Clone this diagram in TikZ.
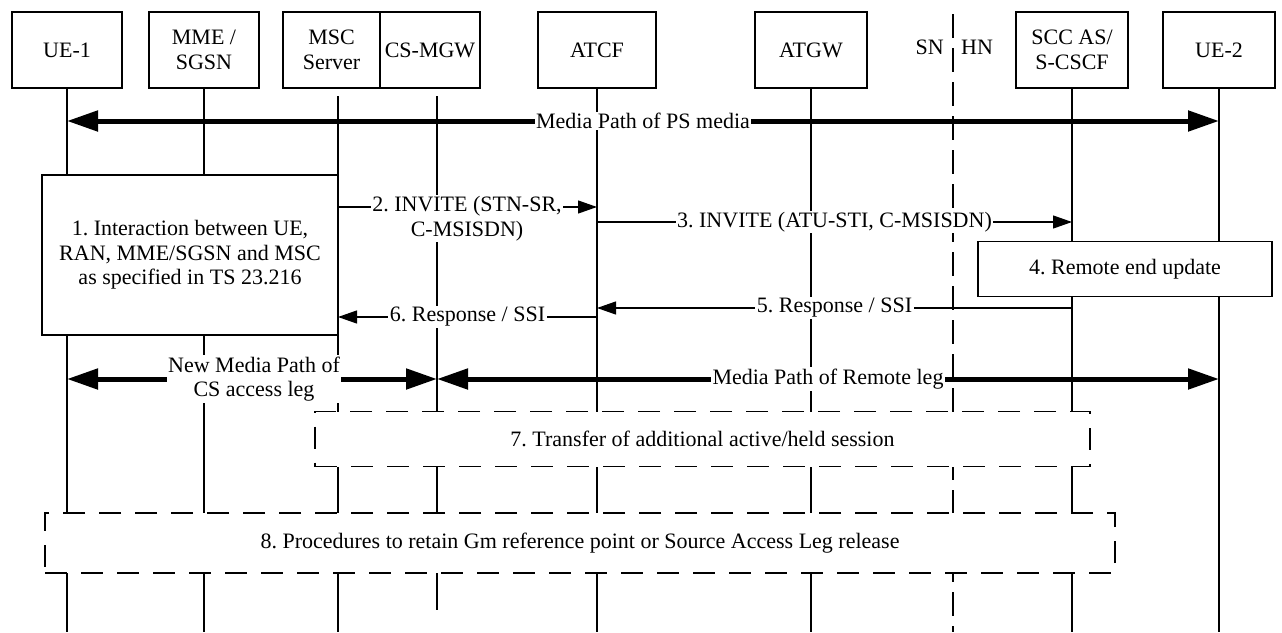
\documentclass[tikz,border=0pt]{standalone}
\usepackage{fontspec}
\setmainfont{Liberation Serif}
\usetikzlibrary{arrows.meta}
\begin{document}
\frenchspacing
\begin{tikzpicture}[x=1pt,y=-1pt,
  every node/.style={font=\fontsize{22}{24.5}\selectfont},
  hdr/.style={draw, line width=1.1pt, fill=white, minimum height=76pt, align=center, inner sep=1pt},
  life/.style={line width=1.2pt},
  snhn/.style={line width=1.2pt, dash pattern=on 24pt off 10pt},
  msg/.style={line width=1.2pt, -{Triangle[length=19pt,width=13pt]}},
  media/.style={line width=5pt, {Triangle[length=31pt,width=20pt]}-{Triangle[length=31pt,width=20pt]}},
  lbl/.style={fill=white, inner sep=1.5pt, align=center},
  procbox/.style={draw, line width=1.2pt, fill=white, align=center, inner sep=0pt},
  dproc/.style={draw, line width=1.2pt, fill=white, dash pattern=on 22pt off 14pt, align=center, inner sep=0pt}]
\useasboundingbox (0,0) rectangle (1282,632);
% header boxes
\node[hdr, minimum width=110pt] (ue1) at (67,50) {UE-1};
\node[hdr, minimum width=110pt] (mme) at (204,50) {MME /\\SGSN};
\node[hdr, minimum width=97pt] (msc) at (331.5,50) {MSC\\Server};
\node[hdr, minimum width=100pt] (cmgw) at (430,50) {CS-MGW};
\node[hdr, minimum width=118pt] (atcf) at (597,50) {ATCF};
\node[hdr, minimum width=112pt] (atgw) at (811,50) {ATGW};
\node[hdr, minimum width=112pt] (scc) at (1072,50) {SCC AS/\\S-CSCF};
\node[hdr, minimum width=112pt] (ue2) at (1219,50) {UE-2};
\node[anchor=east, inner sep=0pt] (sn) at (944,47) {SN};
\node[anchor=west, inner sep=0pt] (hn) at (961,47) {HN};
% lifeline coordinates
\coordinate (ue1b) at (67,632);
\coordinate (mmeb) at (204,632);
\coordinate (msct) at (338,96);
\coordinate (mscb) at (338,632);
\coordinate (cmgwt) at (437,96);
\coordinate (cmgwb) at (437,610);
\coordinate (atcfb) at (597,632);
\coordinate (atgwb) at (811,632);
\coordinate (sccb) at (1072,632);
\coordinate (ue2b) at (1219,632);
\coordinate (bdt) at (953,14);
\coordinate (bdb) at (953,632);
% lifelines
\draw[life] (ue1.south) -- (ue1b);
\draw[life] (mme.south) -- (mmeb);
\draw[life] (msct) -- (mscb);
\draw[life] (cmgwt) -- (cmgwb);
\draw[life] (atcf.south) -- (atcfb);
\draw[life] (atgw.south) -- (atgwb);
\draw[life] (scc.south) -- (sccb);
\draw[life] (ue2.south) -- (ue2b);
\draw[snhn] (bdt) -- (bdb);
% PS media path
\coordinate (ps1) at (67,121);
\coordinate (ps2) at (1219,121);
\draw[media] (ps1) -- (ps2) node[lbl, midway] (pslbl) {Media Path of PS media};
% procedure boxes
\node[procbox, minimum width=296pt, minimum height=160pt] (p1) at (190,255)
  {1. Interaction between UE,\\RAN, MME/SGSN and MSC\\as specified in TS 23.216};
\node[procbox, minimum width=294pt, minimum height=55pt] (p4) at (1125,269) {4. Remote end update};
\node[dproc, minimum width=775pt, minimum height=55pt] (p7) at (702.5,439) {7. Transfer of additional active/held session};
\node[dproc, minimum width=1070pt, minimum height=60pt] (p8) at (580,543) {8. Procedures to retain Gm reference point or Source Access Leg release};
% messages
\coordinate (m2a) at (338,207);
\coordinate (m2b) at (597,207);
\draw[msg] (m2a) -- (m2b);
\node[lbl] (m2l) at (467,218.5) {2. INVITE (STN-SR,\\C-MSISDN)};
\coordinate (m3a) at (597,222);
\coordinate (m3b) at (1072,222);
\draw[msg] (m3a) -- (m3b) node[lbl, midway] (m3l) {3. INVITE (ATU-STI, C-MSISDN)};
\coordinate (m5a) at (1072,308);
\coordinate (m5b) at (597,308);
\draw[msg] (m5a) -- (m5b) node[lbl, midway] (m5l) {5. Response / SSI};
\coordinate (m6a) at (597,317);
\coordinate (m6b) at (338,317);
\draw[msg] (m6a) -- (m6b) node[lbl, midway] (m6l) {6. Response / SSI};
% media paths after handover
\coordinate (nm1) at (67,379);
\coordinate (nm2) at (437,379);
\coordinate (rm2) at (1219,379);
\draw[media] (nm1) -- (nm2);
\draw[media] (nm2) -- (rm2);
\node[lbl] (nml) at (254,379) {New Media Path of\\CS access leg};
\node[lbl] (rml) at (828,379) {Media Path of Remote leg};
\end{tikzpicture}
\end{document}
